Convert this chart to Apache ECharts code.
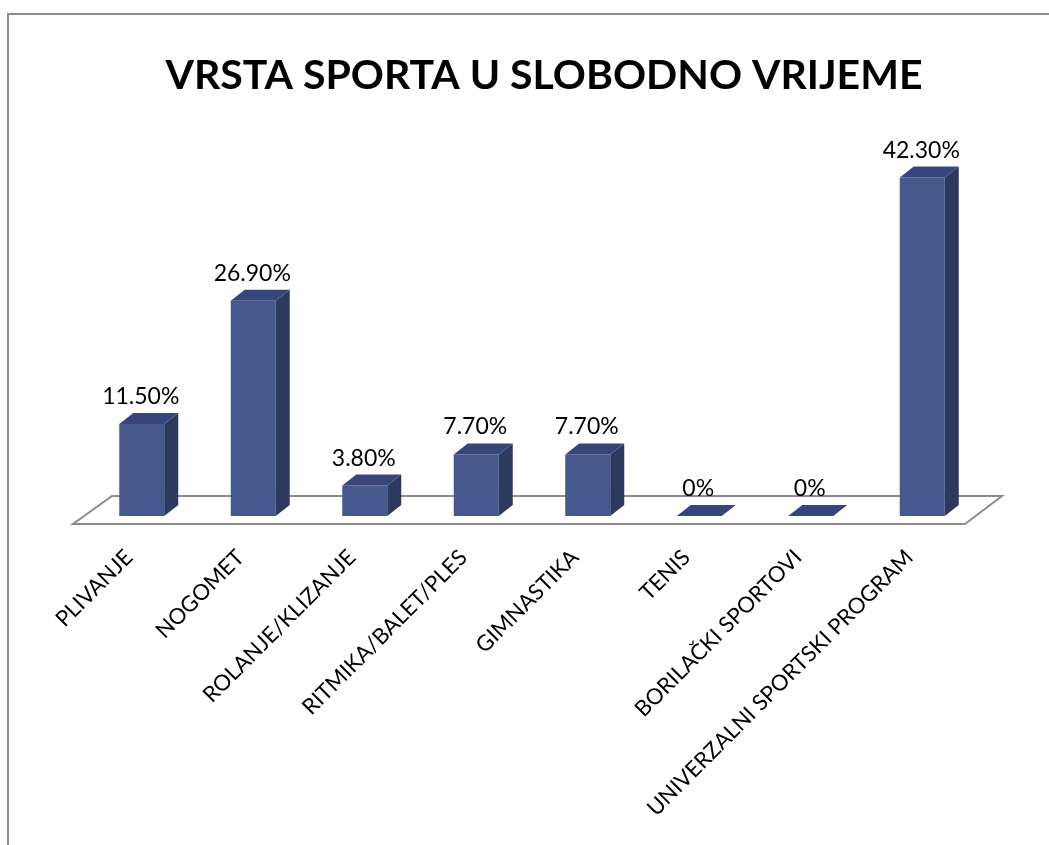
<!DOCTYPE html>
<html>
<head>
<meta charset="utf-8">
<script src="https://cdn.jsdelivr.net/npm/echarts@6/dist/echarts.min.js"></script>
<style>
    html, body { margin: 0; padding: 0; background: #fff; }
    #chart { width: 1049px; height: 845px; }
</style>
</head>
<body>
<div id="chart"></div>
<script>
var categories = ['PLIVANJE', 'NOGOMET', 'ROLANJE/KLIZANJE', 'RITMIKA/BALET/PLES', 'GIMNASTIKA', 'TENIS', 'BORILAČKI SPORTOVI', 'UNIVERZALNI SPORTSKI PROGRAM'];
var values = [11.5, 26.9, 3.8, 7.7, 7.7, 0, 0, 42.3];
var valueLabels = ['11.50%', '26.90%', '3.80%', '7.70%', '7.70%', '0%', '0%', '42.30%'];

var myChart = echarts.init(document.getElementById('chart'));

// box "depth" for the fake 3d look
var dx = 14, dy = 11;
var barW = 45;

function renderBar(params, api) {
    var i = api.value(0);
    var top = api.coord([i, api.value(1)]);
    var base = api.coord([i, 0]);
    var x0 = top[0] - barW / 2;
    var x1 = x0 + barW;
    var yT = top[1], yB = base[1];
    var children = [];
    if (yB - yT > 0.5) {
        // front
        children.push({
            type: 'rect',
            shape: { x: x0, y: yT, width: barW, height: yB - yT },
            style: { fill: '#46598d' }
        });
        // side
        children.push({
            type: 'polygon',
            shape: { points: [[x1, yT], [x1 + dx, yT - dy], [x1 + dx, yB - dy], [x1, yB]] },
            style: { fill: '#2d3a5d' }
        });
    }
    // top
    children.push({
        type: 'polygon',
        shape: { points: [[x0, yT], [x1, yT], [x1 + dx, yT - dy], [x0 + dx, yT - dy]] },
        style: { fill: '#36467a' }
    });
    children.push({
        type: 'text',
        style: {
            text: valueLabels[params.dataIndex],
            x: top[0] - 1,
            y: yT - dy - 5,
            align: 'center',
            verticalAlign: 'bottom',
            fontFamily: 'Lato',
            fontSize: 23,
            fill: '#000'
        }
    });
    return { type: 'group', children: children };
}

var option = {
    animation: false,
    backgroundColor: '#fff',
    title: {
        text: 'VRSTA SPORTA U SLOBODNO VRIJEME',
        left: 539,
        textAlign: 'center',
        top: 50,
        textStyle: {
            fontFamily: 'Lato',
            fontSize: 41,
            fontWeight: 'bold',
            color: '#000'
        }
    },
    graphic: [
        {
            type: 'rect',
            shape: { x: 8, y: 14, width: 1200, height: 1000 },
            style: { fill: 'none', stroke: '#8c8c8c', lineWidth: 2 },
            z: 0
        },
        {
            // floor
            type: 'polygon',
            shape: { points: [[73, 524], [965, 524], [1002, 496], [112, 496]] },
            style: { fill: '#fff', stroke: '#8c8c8c', lineWidth: 2 },
            z: 0
        }
    ],
    grid: {
        left: 86,
        width: 892,
        top: 116,
        height: 400
    },
    xAxis: {
        type: 'category',
        data: categories,
        axisLine: { show: false },
        axisTick: { show: false },
        axisLabel: {
            interval: 0,
            rotate: 45,
            margin: 25,
            padding: [0, 18, 0, 0],
            fontFamily: 'Lato',
            fontSize: 22,
            color: '#000'
        }
    },
    yAxis: {
        type: 'value',
        min: 0,
        max: 50,
        show: false
    },
    series: [
        {
            type: 'custom',
            renderItem: renderBar,
            z: 5,
            encode: { x: 0, y: 1 },
            data: values.map(function (v, i) { return [i, v]; })
        }
    ]
};
myChart.setOption(option);
</script>
</body>
</html>
